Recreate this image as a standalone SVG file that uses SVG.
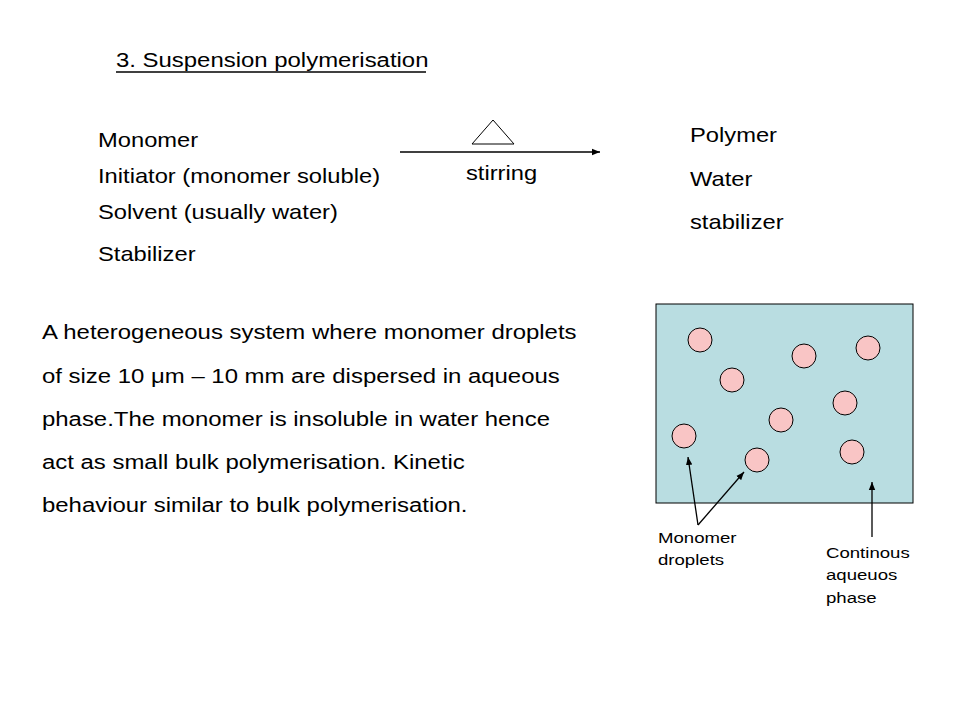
<svg xmlns="http://www.w3.org/2000/svg" width="960" height="720" viewBox="0 0 960 720">
<style>
text{font-family:"Liberation Sans",Arial,sans-serif;fill:#000}
.t{font-size:21px}
.s{font-size:15.5px}
.drop{fill:#f9c5c5;stroke:#000;stroke-width:1}
.ln{stroke:#000;stroke-width:1.3;fill:none}
</style>
<defs>
<marker id="ah" viewBox="0 0 10 10" refX="10" refY="5" markerWidth="8" markerHeight="8" orient="auto" markerUnits="userSpaceOnUse">
<path d="M0,1 L10,5 L0,9 z" fill="#000"/>
</marker>
</defs>
<rect width="960" height="720" fill="#fff"/>
<g id="title">
<text class="t" transform="translate(116,67) scale(1.14,1)">3. Suspension polymerisation</text>
<line x1="116" y1="72" x2="426" y2="72" stroke="#000" stroke-width="1.5"/>
</g>
<g id="reactants">
<text class="t" transform="translate(98,147) scale(1.13,1)">Monomer</text>
<text class="t" transform="translate(98,183) scale(1.13,1)">Initiator (monomer soluble)</text>
<text class="t" transform="translate(98,219) scale(1.13,1)">Solvent (usually water)</text>
<text class="t" transform="translate(98,261) scale(1.13,1)">Stabilizer</text>
</g>
<g id="products">
<text class="t" transform="translate(690,142) scale(1.13,1)">Polymer</text>
<text class="t" transform="translate(690,186) scale(1.13,1)">Water</text>
<text class="t" transform="translate(690,229) scale(1.13,1)">stabilizer</text>
</g>
<g id="heat">
<polygon points="493,120 472,144 514,144" fill="none" stroke="#000" stroke-width="1"/>
<text class="t" transform="translate(466,180) scale(1.13,1)">stirring</text>
</g>
<g id="description">
<text class="t" transform="translate(42,339) scale(1.14,1)">A heterogeneous system where monomer droplets</text>
<text class="t" transform="translate(42,383) scale(1.14,1)">of size 10 μm – 10 mm are dispersed in aqueous</text>
<text class="t" transform="translate(42,426) scale(1.14,1)">phase.The monomer is insoluble in water hence</text>
<text class="t" transform="translate(42,469) scale(1.14,1)">act as small bulk polymerisation. Kinetic</text>
<text class="t" transform="translate(42,512) scale(1.14,1)">behaviour similar to bulk polymerisation.</text>
</g>
<g id="vessel">
<rect x="656" y="304" width="257" height="199" fill="#b9dde1" stroke="#000" stroke-width="1"/>
<circle class="drop" cx="700" cy="340" r="12"/>
<circle class="drop" cx="804" cy="356" r="12"/>
<circle class="drop" cx="868" cy="348" r="12"/>
<circle class="drop" cx="732" cy="380" r="12"/>
<circle class="drop" cx="845" cy="403" r="12"/>
<circle class="drop" cx="781" cy="420" r="12"/>
<circle class="drop" cx="684" cy="436" r="12"/>
<circle class="drop" cx="757" cy="460" r="12"/>
<circle class="drop" cx="852" cy="452" r="12"/>
</g>
<g id="label-droplets">
<text class="s" transform="translate(658,543) scale(1.2,1)">Monomer</text>
<text class="s" transform="translate(658,565) scale(1.2,1)">droplets</text>
</g>
<g id="label-phase">
<text class="s" transform="translate(826,558) scale(1.2,1)">Continous</text>
<text class="s" transform="translate(826,580) scale(1.2,1)">aqueuos</text>
<text class="s" transform="translate(826,603) scale(1.2,1)">phase</text>
</g>
<g id="connectors">
<line class="ln" x1="400" y1="152" x2="600" y2="152" marker-end="url(#ah)"/>
<line class="ln" x1="698" y1="525" x2="688" y2="457" marker-end="url(#ah)"/>
<line class="ln" x1="698" y1="525" x2="744" y2="472" marker-end="url(#ah)"/>
<line class="ln" x1="872" y1="537" x2="872" y2="482" marker-end="url(#ah)"/>
</g>
</svg>
